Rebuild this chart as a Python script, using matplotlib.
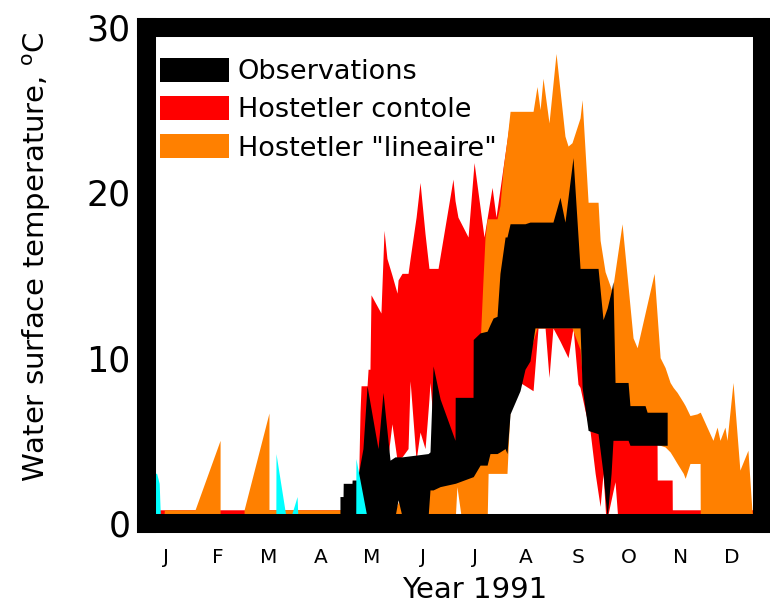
import matplotlib
matplotlib.use("Agg")
import matplotlib.pyplot as plt
import numpy as np

# --- Hostetler "lineaire" envelope (day of year, min, max) ---
lin_day = [13.5, 14, 31.9, 46.5, 46.5, 60.5, 60.5, 75.0, 75.0, 116, 148.5, 151.4, 168.9,
           183.5, 184.6, 187.6, 192.2, 196.9, 199.8, 201.0, 202.2, 202.8, 208.0, 209.7,
           211.5, 213.8, 215.6, 221.4, 229.0, 231.3, 233.1, 234.8, 238.3, 242.4, 247.6,
           249.4, 251.7, 256.4, 257.6, 261.1, 266.9, 268.1, 271.0, 275.1, 280.9, 287.3,
           289.7, 299.6, 303.1, 306.0, 308.9, 310.7, 313.0, 316.6, 317.7, 320.5, 324.6,
           326.4, 326.5, 330.4, 333.9, 336.3, 338.0, 340.9, 342.1, 345.6, 349.6, 354.3,
           356.6, 357.5]
lin_lo = [0, 0, 0, 0, 0, 0, 0, 0, 0, 0, 0, 0, 0,
          0, 2.2, 0, 0, 0, 0, 0, 0, 3.0, 3.0, 3.0,
          3.0, 3.0, 7.0, 8.5, 11.0, 11.8, 11.8, 11.8, 11.8, 11.8, 11.8,
          11.8, 11.8, 10.5, 9.0, 7.0, 6.0, 6.0, 5.8, 5.5, 5.3, 5.0,
          5.0, 4.8, 4.7, 4.6, 4.3, 4.0, 3.6, 3.0, 2.7, 3.6, 3.6,
          3.6, 0, 0, 0, 0, 0, 0, 0, 0, 0, 0,
          0, 0]
lin_hi = [0, 0.8, 0.8, 5.0, 0, 0, 0.8, 6.65, 0.8, 0.8, 0.8, 1.5, 2.5,
          2.6, 2.7, 2.8, 3.0, 8.0, 14.7, 17.3, 18.4, 18.4, 18.4, 19.2,
          21.4, 23.2, 24.9, 24.9, 24.9, 26.4, 25.0, 26.9, 24.2, 28.4, 23.4,
          22.8, 23.0, 24.5, 25.6, 19.4, 19.4, 17.1, 15.2, 14.0, 18.1, 11.2,
          10.6, 15.1, 10.0, 9.4, 8.5, 8.2, 7.9, 7.3, 7.1, 6.5, 6.6,
          6.7, 6.7, 5.8, 5.0, 5.8, 5.0, 5.8, 5.0, 8.5, 3.2, 4.4,
          0.8, 0]

# --- Hostetler contole envelope ---
ctl_day = [3, 126.9, 128.1, 128.7, 132.2, 132.8, 133.9, 134.5, 140.3, 142.1, 143.8,
           146.7, 149.7, 150.3, 152.6, 156.1, 157.3, 160.8, 163.1, 166.0, 167.2, 168.3,
           168.9, 172.4, 173.6, 182.3, 183.5, 185.2, 191.1, 194.6, 200.4, 205.1, 207.4,
           211.5, 216.2, 221.4, 229.0, 231.9, 236.0, 238.3, 240.6, 244.7, 249.4, 252.3,
           255.2, 256.4, 259.3, 262.3, 265.2, 268.1, 269.8, 271.6, 276.8, 278.6, 301.3,
           301.4, 310.1, 310.2, 363]
ctl_lo = [0, 0, 0.5, 0.5, 0.5, 0.5, 0.5, 0.5, 0.5, 0.5, 3.5,
          6.0, 3.8, 3.9, 4.0, 4.5, 8.6, 3.8, 5.5, 4.5, 6.0, 7.5,
          8.5, 4.0, 4.0, 4.0, 4.0, 4.0, 4.0, 3.5, 4.0, 4.5, 5.0,
          6.0, 7.0, 8.5, 8.0, 11.8, 11.8, 8.8, 11.8, 11.0, 10.0, 11.8,
          8.4, 8.2, 6.8, 5.5, 3.0, 1.0, 3.0, 0, 2.5, 0, 0,
          0, 0, 0, 0]
ctl_hi = [0.8, 0.8, 6.7, 8.3, 8.3, 9.3, 9.3, 13.8, 12.7, 17.7, 16.0,
          15.0, 13.9, 14.7, 15.1, 15.1, 16.0, 18.5, 20.6, 17.5, 16.4, 15.4,
          15.4, 15.4, 15.4, 20.8, 19.5, 18.5, 17.3, 21.8, 17.3, 20.3, 18.5,
          21.5, 24.9, 22.0, 20.0, 20.0, 20.0, 20.0, 20.0, 20.0, 18.0, 18.0,
          16.0, 16.0, 14.0, 12.0, 10.0, 8.0, 7.0, 6.0, 5.4, 5.4, 4.8,
          2.6, 2.6, 0.8, 0.8]

# --- Observations envelope ---
obs_day = [116.4, 118.2, 118.3, 123.4, 123.5, 126.5, 129.8, 132.2, 136.9, 138.6, 141.5,
           145.6, 148.5, 150.3, 152.6, 167.8, 168.9, 170.7, 174.8, 183.5, 183.6, 194.0,
           194.1, 198.1, 202.2, 203.9, 205.7, 208.0, 209.7, 212.7, 213.8, 215.6, 221.4,
           224.3, 227.2, 230.1, 240.6, 244.7, 247.6, 252.3, 256.4, 257.6, 261.1, 266.9,
           269.8, 272.2, 274.5, 275.6, 276.8, 284.4, 285.5, 294.3, 295.5, 307.2]
obs_lo = [0.4, 0.4, 0.4, 0.4, 0.4, 0.4, 0.4, 0.4, 0.4, 0.4, 0.4,
          0.4, 0.4, 1.4, 0.4, 0.4, 2.0, 2.0, 2.2, 2.4, 2.4, 2.8,
          2.8, 3.5, 3.5, 4.2, 4.2, 4.2, 4.3, 4.5, 4.2, 6.6, 8.0,
          9.3, 9.8, 11.8, 11.8, 11.8, 11.8, 11.8, 11.8, 8.2, 5.6, 5.4,
          3.0, 0.3, 3.0, 5.0, 5.0, 5.0, 4.7, 4.7, 4.7, 4.7]
obs_hi = [1.6, 1.6, 2.4, 2.4, 2.6, 2.6, 4.5, 8.3, 5.5, 4.5, 7.9,
          3.8, 4.0, 4.0, 4.0, 4.2, 4.3, 9.5, 7.5, 5.0, 7.6, 7.6,
          11.1, 11.5, 11.6, 12.0, 12.4, 12.5, 15.1, 17.3, 17.3, 18.1, 18.1,
          18.1, 18.2, 18.2, 18.2, 19.7, 18.2, 22.1, 15.4, 15.4, 15.4, 15.4,
          12.3, 13.0, 14.0, 14.6, 8.5, 8.5, 7.1, 7.1, 6.7, 6.7]

# --- extra series (drawn in cyan, not in legend) ---
cy_day = [3, 9.5, 11.0, 11.6, 12.0, 79.0, 79.1, 85.5, 86.7, 91.4, 92.0, 125.6, 125.7, 132.8]
cy_hi = [3.1, 3.0, 2.4, 0.6, 0, 0, 4.2, 0, 0, 1.6, 0, 0, 3.9, 0]

months = ['J', 'F', 'M', 'A', 'M', 'J', 'J', 'A', 'S', 'O', 'N', 'D']
month_pos = [15 + 30 * i for i in range(12)]

fig = plt.figure(figsize=(7.7, 6.03), dpi=100)
ax = fig.add_axes([146 / 770, 1 - 523 / 603, 616 / 770, 496 / 603])

ax.fill_between(ctl_day, ctl_lo, ctl_hi, color='#ff0000', lw=0, zorder=1,
                label='Hostetler contole')
ax.fill_between(lin_day, lin_lo, lin_hi, color='#ff8000', lw=0, zorder=2,
                label='Hostetler "lineaire"')
ax.fill_between(obs_day, obs_lo, obs_hi, color='black', lw=0, zorder=3,
                label='Observations')
ax.fill_between(cy_day, 0, cy_hi, color='#00ffff', lw=0, zorder=4)

ax.set_xlim(3.3, 362.5)
ax.set_ylim(0, 30)
ax.set_yticks([0, 10, 20, 30])
ax.set_xticks(month_pos)
ax.set_xticklabels(months)
ax.tick_params(axis='y', length=0, pad=11, labelsize=25)
ax.tick_params(axis='x', length=0, pad=18, labelsize=14.5)

for sp in ax.spines.values():
    sp.set_linewidth(13.7)
    sp.set_zorder(10)

handles, labels = ax.get_legend_handles_labels()
order = [2, 0, 1]
ax.legend([handles[i] for i in order], [labels[i] for i in order],
          loc='upper left', bbox_to_anchor=(0.022, 0.938), frameon=False,
          fontsize=19.5, handlelength=2.55, handleheight=1.0, handletextpad=0.33,
          labelspacing=0.4, borderpad=0, borderaxespad=0)

fig.text(475 / 770, 1 - 590 / 603, 'Year 1991', ha='center', va='center', fontsize=21)
fig.text(37 / 770, 1 - 257 / 603, r'Water surface temperature, $^{\mathrm{o}}$C',
         ha='center', va='center', rotation=90, fontsize=21)

fig.savefig('out.png', dpi=100)
